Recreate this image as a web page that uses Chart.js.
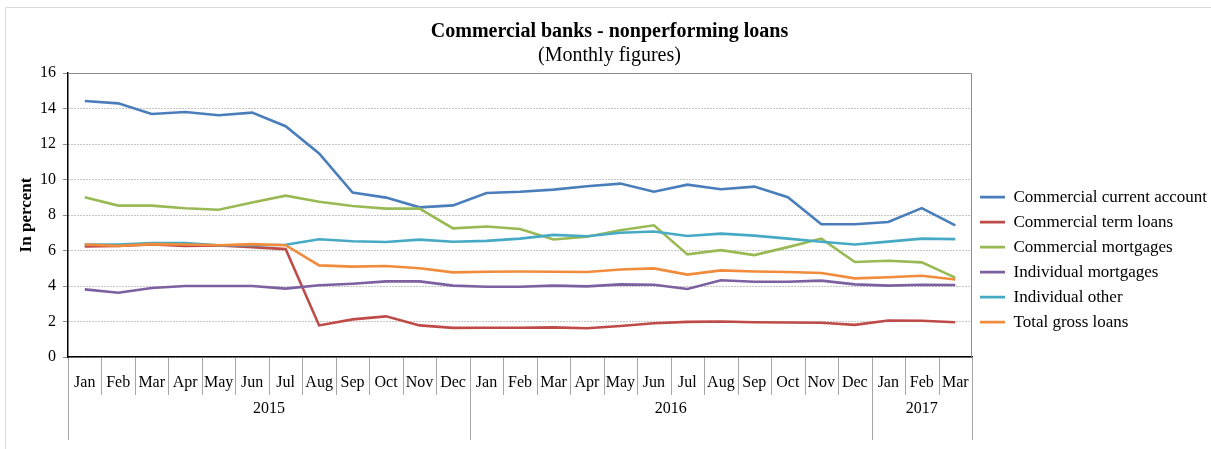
<!DOCTYPE html>
<html>
<head>
<meta charset="utf-8">
<script src="https://cdn.jsdelivr.net/npm/chart.js@4"></script>
<style>
  body { margin: 0; background: #fff; }
  #wrap { position: relative; width: 1211px; height: 449px; }
</style>
</head>
<body>
<div id="wrap"><canvas id="nplChart"></canvas></div>
<script>
const months = ['Jan','Feb','Mar','Apr','May','Jun','Jul','Aug','Sep','Oct','Nov','Dec',
                'Jan','Feb','Mar','Apr','May','Jun','Jul','Aug','Sep','Oct','Nov','Dec',
                'Jan','Feb','Mar'];
const years = ['2015', '2016', '2017'];
const monthsPerYear = [12, 12, 3];

const commercialCurrent = [14.42, 14.29, 13.69, 13.8, 13.62, 13.77, 13.0, 11.47, 9.26, 8.98, 8.43, 8.54,
                           9.24, 9.31, 9.43, 9.62, 9.77, 9.31, 9.71, 9.45, 9.6, 9.0, 7.48, 7.48,
                           7.61, 8.39, 7.42];
const commercialTerm = [6.23, 6.26, 6.34, 6.26, 6.28, 6.19, 6.08, 1.78, 2.12, 2.29, 1.78, 1.64,
                        1.65, 1.65, 1.67, 1.62, 1.75, 1.9, 1.98, 2.0, 1.96, 1.94, 1.93, 1.81,
                        2.06, 2.04, 1.96];
const commercialMortgages = [9.0, 8.53, 8.53, 8.38, 8.3, 8.71, 9.09, 8.75, 8.51, 8.36, 8.36, 7.25,
                             7.35, 7.21, 6.62, 6.77, 7.14, 7.42, 5.78, 6.02, 5.74, 6.19, 6.67, 5.35,
                             5.42, 5.33, 4.47];
const individualMortgages = [3.81, 3.62, 3.89, 4.0, 4.0, 4.0, 3.85, 4.04, 4.13, 4.26, 4.26, 4.02,
                             3.96, 3.96, 4.02, 3.98, 4.09, 4.07, 3.83, 4.32, 4.24, 4.24, 4.3, 4.09,
                             4.02, 4.07, 4.06];
const individualOther = [6.34, 6.33, 6.42, 6.42, 6.3, 6.3, 6.32, 6.63, 6.52, 6.48, 6.61, 6.49,
                         6.54, 6.67, 6.88, 6.8, 7.0, 7.07, 6.82, 6.95, 6.84, 6.67, 6.49, 6.34,
                         6.5, 6.67, 6.64];
const totalGross = [6.34, 6.26, 6.36, 6.34, 6.3, 6.36, 6.3, 5.16, 5.09, 5.13, 5.0, 4.77,
                    4.8, 4.82, 4.8, 4.79, 4.93, 4.99, 4.64, 4.88, 4.82, 4.79, 4.73, 4.43,
                    4.49, 4.58, 4.37];

const seriesNames = ['Commercial current account', 'Commercial term loans', 'Commercial mortgages',
                     'Individual mortgages', 'Individual other', 'Total gross loans'];
const seriesData = [commercialCurrent, commercialTerm, commercialMortgages,
                    individualMortgages, individualOther, totalGross];
const colors = ['#4a7ebb', '#be4b48', '#98b954', '#7d60a0', '#46aac5', '#f08c3c'];

const serif = 'Liberation Serif, Times New Roman, serif';

// frame, plot border and the two-level category axis (months / years)
const excelFrame = {
  id: 'excelFrame',
  beforeDraw(chart) {
    const c = chart.ctx;
    c.save();
    c.fillStyle = '#fff';
    c.fillRect(0, 0, chart.width, chart.height);
    c.strokeStyle = '#d9d9d9';
    c.lineWidth = 1;
    c.beginPath();
    c.moveTo(5.5, chart.height);
    c.lineTo(5.5, 7.5);
    c.lineTo(chart.width, 7.5);
    c.stroke();
    c.restore();
  },
  beforeDatasetsDraw(chart) {
    const a = chart.chartArea;
    const c = chart.ctx;
    c.save();
    c.strokeStyle = '#8c8c8c';
    c.lineWidth = 1;
    c.beginPath();
    c.moveTo(a.left, a.top + 0.5);
    c.lineTo(a.right - 0.5, a.top + 0.5);
    c.lineTo(a.right - 0.5, a.bottom);
    c.stroke();
    c.restore();
  },
  afterDraw(chart) {
    const x = chart.scales.x;
    const a = chart.chartArea;
    const c = chart.ctx;
    const edge = i => {
      if (i <= 0) return a.left;
      if (i >= months.length) return a.right;
      return (x.getPixelForValue(i - 1) + x.getPixelForValue(i)) / 2;
    };
    c.save();
    c.strokeStyle = '#a6a6a6';
    c.lineWidth = 1;
    for (let i = 0; i <= months.length; i++) {
      const px = Math.round(edge(i)) + 0.5;
      c.beginPath();
      c.moveTo(px, a.bottom + 1);
      c.lineTo(px, a.bottom + 38);
      c.stroke();
    }
    c.fillStyle = '#000';
    c.font = '16px ' + serif;
    c.textAlign = 'center';
    c.textBaseline = 'middle';
    let start = 0;
    years.forEach((y, k) => {
      const end = start + monthsPerYear[k];
      const l = edge(start), r = edge(end);
      c.beginPath();
      c.moveTo(Math.round(l) + 0.5, a.bottom + 38);
      c.lineTo(Math.round(l) + 0.5, a.bottom + 83);
      c.moveTo(Math.round(r) + 0.5, a.bottom + 38);
      c.lineTo(Math.round(r) + 0.5, a.bottom + 83);
      c.stroke();
      c.fillText(y, (l + r) / 2, a.bottom + 52);
      start = end;
    });
    c.restore();
  }
};

const ctx = document.getElementById('nplChart');
const nplChart = new Chart(ctx, {
  type: 'line',
  data: {
    labels: months,
    datasets: seriesNames.map((name, i) => ({
      label: name,
      data: seriesData[i],
      borderColor: colors[i],
      backgroundColor: colors[i],
      borderWidth: 2.6,
      pointRadius: 0,
      tension: 0,
      order: seriesNames.length - i // later series drawn on top, like Excel
    }))
  },
  plugins: [excelFrame],
  options: {
    responsive: true,
    maintainAspectRatio: false,
    animation: false,
    layout: {
      padding: { top: 7, left: 8, right: 0, bottom: 2 }
    },
    scales: {
      x: {
        offset: true,
        grid: { display: false },
        border: { display: true, color: '#000', width: 1.5 },
        ticks: {
          color: '#000',
          font: { family: serif, size: 16 },
          padding: 8,
          autoSkip: false,
          maxRotation: 0
        },
        afterFit: scale => { scale.height = 90; }
      },
      y: {
        min: 0,
        max: 16,
        ticks: {
          stepSize: 2,
          color: '#000',
          font: { family: serif, size: 16 },
          padding: 7
        },
        grid: {
          color: '#8c8c8c',
          tickLength: 5,
          tickColor: '#8c8c8c'
        },
        border: { color: '#000', width: 1.5, dash: [1, 2] },
        title: {
          display: true,
          text: 'In percent',
          color: '#000',
          font: { family: serif, size: 17, weight: 'bold' },
          padding: { top: 8, bottom: 0 }
        },
        afterFit: scale => { scale.width = 60; }
      }
    },
    plugins: {
      title: {
        display: true,
        text: 'Commercial banks - nonperforming loans',
        color: '#000',
        font: { family: serif, size: 20, weight: 'bold' },
        padding: { top: 13, bottom: 0 }
      },
      subtitle: {
        display: true,
        text: '(Monthly figures)',
        color: '#000',
        font: { family: serif, size: 20, weight: 'normal' },
        padding: { top: 0, bottom: 5 }
      },
      legend: {
        position: 'right',
        maxWidth: 239,
        title: {
          display: true,
          text: ' ',
          font: { size: 1 },
          padding: { top: 64, bottom: 0 }
        },
        labels: {
          color: '#000',
          font: { family: serif, size: 17 },
          boxWidth: 25,
          boxHeight: 0,
          padding: 8,
          sort: (a, b) => a.datasetIndex - b.datasetIndex
        }
      },
      tooltip: { enabled: false }
    }
  }
});
</script>
</body>
</html>
